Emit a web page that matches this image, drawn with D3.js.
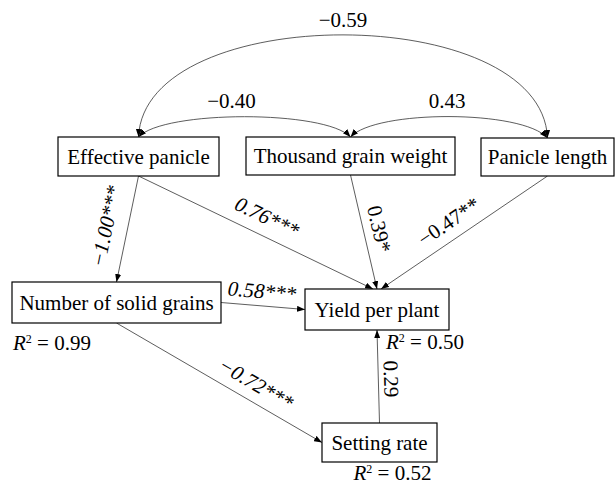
<!DOCTYPE html>
<html>
<head>
<meta charset="utf-8">
<script src="https://cdn.jsdelivr.net/npm/d3@7"></script>
<style>
  body { margin: 0; background: #fff; }
</style>
</head>
<body>
<div id="viz"></div>
<script>
// ---- data ----
const variables = ["Effective panicle", "Thousand grain weight", "Panicle length",
                   "Number of solid grains", "Yield per plant", "Setting rate"];

// [from, to, coefficient, significance]
const directPaths = [
  ["Effective panicle", "Number of solid grains", -1.00, "***"],
  ["Effective panicle", "Yield per plant", 0.76, "***"],
  ["Thousand grain weight", "Yield per plant", 0.39, "*"],
  ["Panicle length", "Yield per plant", -0.47, "**"],
  ["Number of solid grains", "Yield per plant", 0.58, "***"],
  ["Number of solid grains", "Setting rate", -0.72, "***"],
  ["Setting rate", "Yield per plant", 0.29, ""]
];

// [a, b, r]
const correlations = [
  ["Effective panicle", "Thousand grain weight", -0.40],
  ["Thousand grain weight", "Panicle length", 0.43],
  ["Effective panicle", "Panicle length", -0.59]
];

const rSquared = [
  ["Number of solid grains", 0.99],
  ["Yield per plant", 0.50],
  ["Setting rate", 0.52]
];

// ---- layout ----
var width = 616, height = 484;
var serif = "'Liberation Serif', 'Times New Roman', Times, serif";
// box: x, y, w, h
const boxes = {
  "Effective panicle":      [58, 137, 161, 39],
  "Thousand grain weight":  [246, 137, 209, 38],
  "Panicle length":         [481, 138, 133, 38],
  "Number of solid grains": [12, 282, 209, 41],
  "Yield per plant":        [305, 289, 144, 41],
  "Setting rate":           [322, 423, 115, 39]
};
const pathAnchors = [["bottom", "top"], ["bottom", "top-4"], ["bottom", "top"], ["bottom", "top+4"],
                     ["right", "left"], ["bottom", "left"], ["top", "bottom"]];
// label position along the path (t) and distance from the line
const pathLabelPos = [[0.516, 22], [0.514, 19], [0.505, 16], [0.533, 18],
                      [0.473, 15], [0.636, 18], [0.47, 13]];
const arcPeak = [116.7, 116.7, 35];
const arcInset = [25, 25, 6];
const arcLabelDx = [-13, -2, 0];
const r2Offset = {
  "Number of solid grains": [1, 26.5],
  "Yield per plant": [81, 19],
  "Setting rate": [31.5, 18]
};

var fmt = d3.format(".2f");

var svg = d3.select('#viz')
  .append('svg')
  .attr('width', width)
  .attr('height', height)
  .attr('font-family', serif);

svg.append("defs").append("marker")
  .attr("id", "arrow")
  .attr("markerUnits", "userSpaceOnUse")
  .attr("viewBox", "0 0 8 6")
  .attr("markerWidth", 8)
  .attr("markerHeight", 6)
  .attr("refX", 8)
  .attr("refY", 3)
  .attr("orient", "auto-start-reverse")
  .append("path")
  .attr("d", "M0,0L8,3L0,6Z")
  .attr("fill", "#000");

function anchor(name, side) {
  var b = boxes[name];
  var shift = 0;
  var m = side.match(/^(\w+)([+-]\d+)?$/);
  side = m[1];
  if (m[2]) shift = +m[2];
  if (side == "top") return [b[0] + b[2] / 2 + shift, b[1]];
  if (side == "bottom") return [b[0] + b[2] / 2 + shift, b[1] + b[3]];
  if (side == "left") return [b[0], b[1] + b[3] / 2 + shift];
  return [b[0] + b[2], b[1] + b[3] / 2 + shift];
}

// correlation arcs (double headed)
var arcs = correlations.map(function(d, i) {
  var p0 = anchor(d[0], "top"), p1 = anchor(d[1], "top");
  var c = Math.max(p0[1], p1[1]) - (Math.max(p0[1], p1[1]) - arcPeak[i]) / 0.75;
  var path = d3.path();
  path.moveTo(p0[0], p0[1]);
  path.bezierCurveTo(p0[0] + arcInset[i], c, p1[0] - arcInset[i], c, p1[0], p1[1]);
  return {d: path.toString(), x: (p0[0] + p1[0]) / 2 + arcLabelDx[i], y: arcPeak[i] - 8.5, r: d[2]};
});

svg.append("g")
  .selectAll("path")
  .data(arcs)
  .join("path")
  .attr("d", d => d.d)
  .attr("fill", "none")
  .attr("stroke", "#333")
  .attr("stroke-width", 0.8)
  .attr("marker-start", "url(#arrow)")
  .attr("marker-end", "url(#arrow)");

svg.append("g")
  .selectAll("text")
  .data(arcs)
  .join("text")
  .attr("x", d => d.x)
  .attr("y", d => d.y)
  .attr("text-anchor", "middle")
  .attr("font-size", 21)
  .text(d => fmt(d.r));

// direct paths
var edges = directPaths.map(function(d, i) {
  var s = anchor(d[0], pathAnchors[i][0]), t = anchor(d[1], pathAnchors[i][1]);
  var dx = t[0] - s[0], dy = t[1] - s[1];
  var ang = Math.atan2(dy, dx) * 180 / Math.PI;
  if (ang > 90) ang -= 180;
  if (ang < -90) ang += 180;
  var a = ang * Math.PI / 180;
  var tt = pathLabelPos[i][0], off = pathLabelPos[i][1];
  var lx = s[0] + dx * tt + Math.sin(a) * off;
  var ly = s[1] + dy * tt - Math.cos(a) * off;
  return {s: s, t: t, ang: ang, lx: lx, ly: ly, coef: d[2], sig: d[3]};
});

svg.append("g")
  .selectAll("line")
  .data(edges)
  .join("line")
  .attr("x1", d => d.s[0])
  .attr("y1", d => d.s[1])
  .attr("x2", d => d.t[0])
  .attr("y2", d => d.t[1])
  .attr("stroke", "#333")
  .attr("stroke-width", 0.8)
  .attr("marker-end", "url(#arrow)");

svg.append("g")
  .selectAll("text")
  .data(edges)
  .join("text")
  .attr("transform", d => `translate(${d.lx},${d.ly}) rotate(${d.ang})`)
  .attr("text-anchor", "middle")
  .attr("dy", "0.35em")
  .attr("font-size", 21)
  .attr("font-style", d => d.sig == "***" ? "italic" : "normal")
  .text(d => fmt(d.coef) + d.sig);

// variable boxes
var node = svg.append("g")
  .selectAll("g")
  .data(variables)
  .join("g");

node.append("rect")
  .attr("x", d => boxes[d][0])
  .attr("y", d => boxes[d][1])
  .attr("width", d => boxes[d][2])
  .attr("height", d => boxes[d][3])
  .attr("fill", "#fff")
  .attr("stroke", "#000")
  .attr("stroke-width", 1.2);

node.append("text")
  .attr("x", d => boxes[d][0] + boxes[d][2] / 2)
  .attr("y", d => boxes[d][1] + boxes[d][3] / 2 + 7)
  .attr("text-anchor", "middle")
  .attr("font-size", 21)
  .text(d => d);

// R squared
var r2 = svg.append("g")
  .selectAll("text")
  .data(rSquared)
  .join("text")
  .attr("x", d => boxes[d[0]][0] + r2Offset[d[0]][0])
  .attr("y", d => boxes[d[0]][1] + boxes[d[0]][3] + r2Offset[d[0]][1])
  .attr("font-size", 21);
r2.append("tspan").attr("font-style", "italic").text("R");
r2.append("tspan").attr("font-size", 12).attr("dy", -7).text("2");
r2.append("tspan").attr("dy", 7).text(d => " = " + fmt(d[1]));
</script>
</body>
</html>
